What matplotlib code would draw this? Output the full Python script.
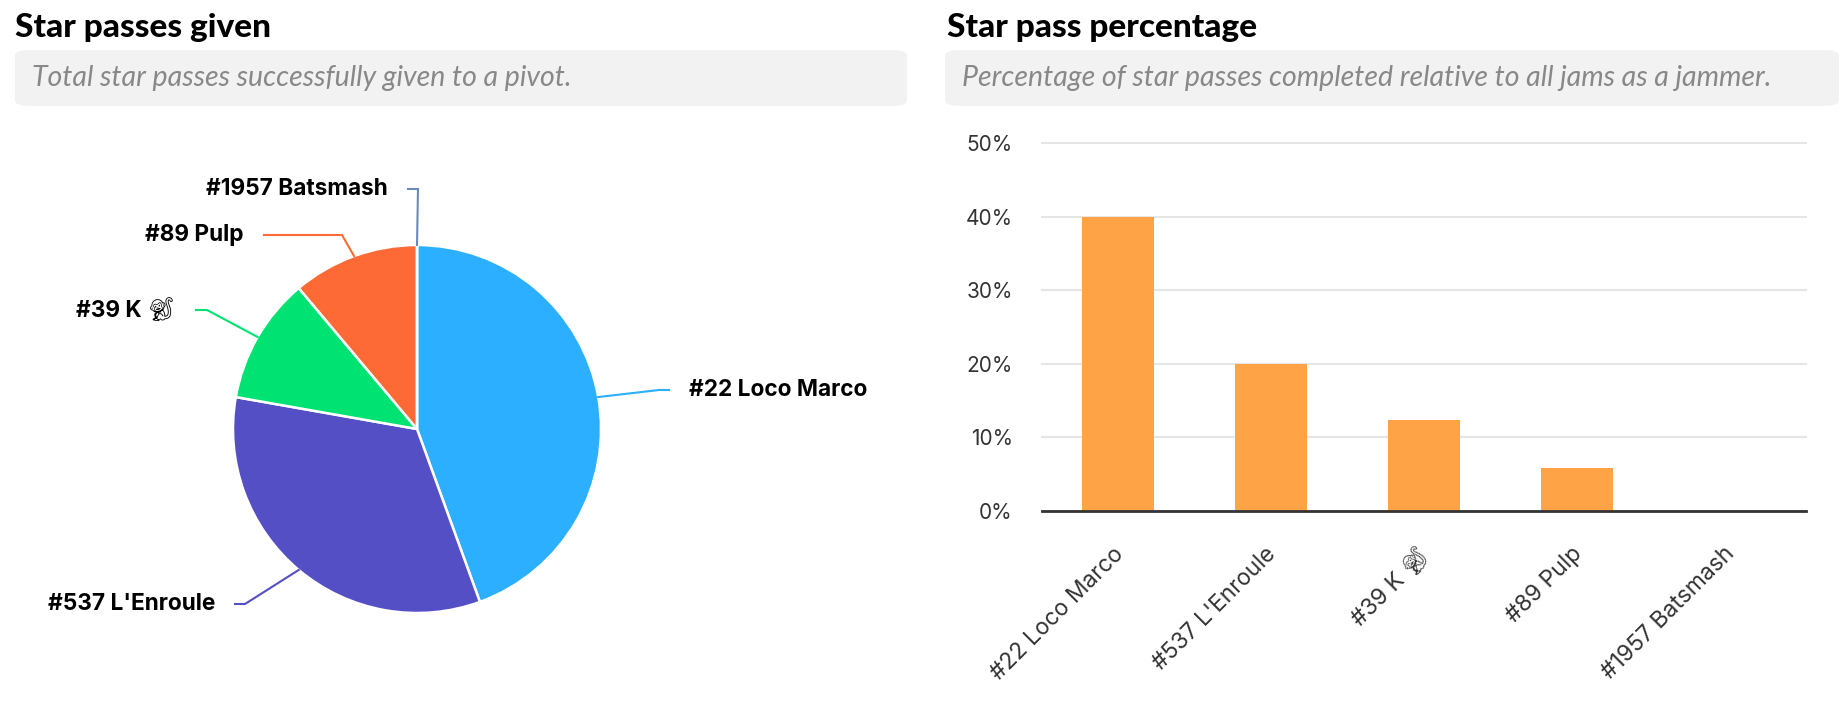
import matplotlib
matplotlib.use('Agg')
import matplotlib.pyplot as plt
import numpy as np
from matplotlib import font_manager
from matplotlib.patches import FancyBboxPatch
from matplotlib.transforms import ScaledTranslation

# data
skaters = ['#22 Loco Marco', "#537 L'Enroule", '#39 K \U0001F412', '#89 Pulp', '#1957 Batsmash']
star_passes = [4, 3, 1, 1, 0]
star_pass_pct = [40, 20, 12.3, 5.8, 0]
y_ticks = [0, 10, 20, 30, 40, 50]

pie_colors = ['#2caffe', '#544fc5', '#00e272', '#fe6a35', '#6b8abc']
bar_color = '#ffa347'

# pie label layout (pixels of the figure, from top-left)
label_x = [689, 215, 176, 244, 388]
label_y = [390, 604, 310, 235, 189]
label_ha = ['left', 'right', 'right', 'right', 'right']
label_seg = [10, 10, 11, 78, 10]   # short flat part of the connector

W, H = 1848, 722
fig = plt.figure(figsize=(W / 100, H / 100), dpi=100)


def fx(x):
    return x / W


def fy(y):
    return 1 - y / H


names = {f.name for f in font_manager.fontManager.ttflist}
emoji_fonts = [n for n in names if ('Emoji' in n or 'Symbola' in n) and 'Color' not in n]
label_family = ['Inter'] + emoji_fonts + ['DejaVu Sans']

# headers + grey subtitle boxes
headers = [(15, 'Star passes given', 'Total star passes successfully given to a pivot.', 15, 907),
           (947, 'Star pass percentage', 'Percentage of star passes completed relative to all jams as a jammer.', 945, 1839)]
for tx, title, sub, bx0, bx1 in headers:
    fig.text(fx(tx), fy(37), title, fontsize=24, fontweight='black', family='Lato',
             color='black', va='baseline', ha='left')
    box = FancyBboxPatch((fx(bx0), fy(106)), fx(bx1 - bx0), 56 / H,
                         boxstyle='round,pad=0,rounding_size=0.008',
                         transform=fig.transFigure, facecolor='#f2f2f2', edgecolor='none')
    fig.patches.append(box)
    fig.text(fx(bx0 + 17), fy(86), sub, fontsize=20.5, style='italic', family='Lato',
             color='#888888', va='baseline', ha='left')

# pie
cx, cy, r_px = 417, 429, 184
ax_pie = fig.add_axes([0, fy(722), fx(924), 612 / H])
wedges, _ = ax_pie.pie(star_passes, colors=pie_colors, startangle=90, counterclock=False,
                       radius=1, wedgeprops=dict(edgecolor='white', linewidth=1.8))
ax_pie.set_xlim(-cx / r_px, (924 - cx) / r_px)
ax_pie.set_ylim((cy - 722) / r_px, (cy - 110) / r_px)
ax_pie.set_aspect('auto')
ax_pie.axis('off')

for w, name, col, lx, ly, ha, seg in zip(wedges, skaters, pie_colors, label_x, label_y,
                                          label_ha, label_seg):
    th = np.deg2rad((w.theta1 + w.theta2) / 2)
    ex, ey = np.cos(th), np.sin(th)
    X = (lx - cx) / r_px
    Y = (cy - ly) / r_px
    gap = 20 / r_px
    side = 1 if ha == 'left' else -1
    end_x = X - side * gap
    kx = end_x - side * seg / r_px
    ax_pie.plot([ex, kx, end_x], [ey, Y, Y], color=col, lw=1.5, clip_on=False,
                solid_joinstyle='miter')
    ax_pie.text(X, Y, name, ha=ha, va='center', fontsize=16.3, fontweight='bold',
                family=label_family, color='black')

# bars
ax_bar = fig.add_axes([fx(1042), fy(511), (1806 - 1042) / W, (511 - 143) / H])
x = np.arange(len(skaters))
ax_bar.bar(x, star_pass_pct, width=0.47, color=bar_color, zorder=2)
ax_bar.set_xlim(-0.5, len(skaters) - 0.5)
ax_bar.set_ylim(0, 50)
ax_bar.set_yticks(y_ticks)
ax_bar.set_yticklabels([f'{v}%' for v in y_ticks], family='Inter', fontsize=15, color='#333333')
ax_bar.grid(axis='y', color='#e6e6e6', linewidth=1.5, zorder=0)
for gl in ax_bar.get_ygridlines():
    gl.set_clip_on(False)
ax_bar.set_axisbelow(True)
for s in ['top', 'right', 'left']:
    ax_bar.spines[s].set_visible(False)
ax_bar.spines['bottom'].set_color('#333333')
ax_bar.spines['bottom'].set_linewidth(2)
ax_bar.spines['bottom'].set_zorder(3)
ax_bar.tick_params(axis='y', length=0, pad=21)
ax_bar.tick_params(axis='x', length=0, pad=23)
ax_bar.set_xticks(x)
ax_bar.set_xticklabels(skaters, rotation=45, ha='right', va='top', rotation_mode='anchor',
                       family=label_family, fontsize=16.5, color='#333333')
for lab in ax_bar.get_xticklabels():
    lab.set_transform(lab.get_transform() + ScaledTranslation(-6 / 100, 0, fig.dpi_scale_trans))

fig.savefig('out.png', dpi=100)
